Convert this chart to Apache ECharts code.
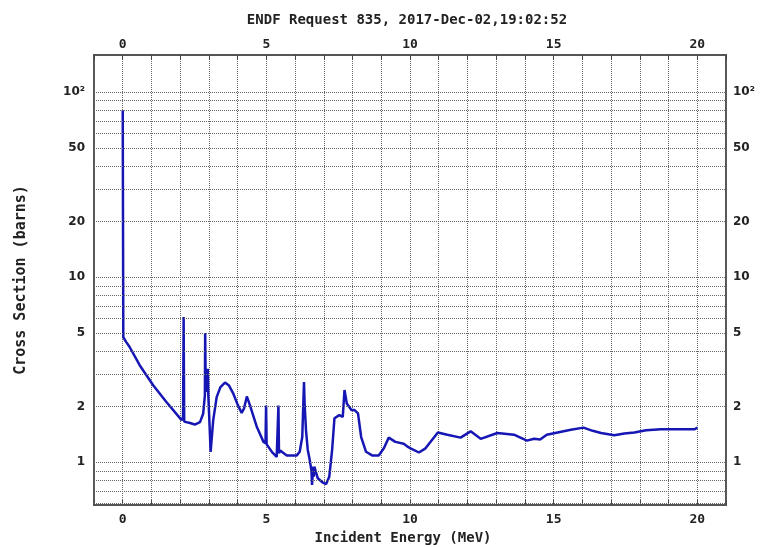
<!DOCTYPE html>
<html>
<head>
<meta charset="utf-8">
<script src="https://cdn.jsdelivr.net/npm/echarts@6/dist/echarts.min.js"></script>
<style>
  html, body { margin: 0; padding: 0; background: #fff; }
  #chart { width: 760px; height: 547px; }
</style>
</head>
<body>
<div id="chart"></div>
<script>
// Incident neutron energy (MeV)
const energy = [
  0.00, 0.02, 0.07, 0.10, 0.13, 0.24, 0.59, 1.06, 1.52, 2.05,
  2.10, 2.12, 2.14, 2.34, 2.51, 2.69, 2.80, 2.86, 2.87, 2.89,
  2.92, 2.94, 2.96, 2.98, 3.06, 3.15, 3.27, 3.40, 3.56, 3.70,
  3.85, 4.00, 4.14, 4.22, 4.32, 4.43, 4.67, 4.90, 4.97, 4.99,
  5.01, 5.19, 5.36, 5.40, 5.42, 5.44, 5.48, 5.71, 6.06, 6.16,
  6.25, 6.31, 6.33, 6.38, 6.44, 6.50, 6.57, 6.59, 6.63, 6.65,
  6.67, 6.79, 6.97, 7.08, 7.19, 7.29, 7.37, 7.54, 7.66, 7.72,
  7.80, 7.96, 8.06, 8.19, 8.30, 8.47, 8.68, 8.91, 9.09, 9.26,
  9.49, 9.78, 9.90, 10.02, 10.31, 10.54, 10.97, 11.30, 11.76, 12.11,
  12.46, 13.04, 13.62, 14.07, 14.32, 14.53, 14.76, 15.14, 15.60, 16.04,
  16.36, 16.65, 17.11, 17.46, 17.81, 18.22, 18.74, 19.33, 19.91, 20.00
];

// Cross section (barns)
const sigma = [
  80.0, 4.75, 4.60, 4.65, 4.45, 4.20, 3.35, 2.61, 2.12, 1.69,
  1.75, 6.10, 1.66, 1.63, 1.60, 1.65, 1.83, 2.30, 5.00, 2.40,
  3.10, 2.40, 3.20, 2.30, 1.14, 1.69, 2.25, 2.55, 2.70, 2.60,
  2.35, 2.05, 1.85, 1.95, 2.27, 2.03, 1.55, 1.29, 1.27, 2.03,
  1.25, 1.14, 1.07, 1.08, 2.03, 1.12, 1.16, 1.09, 1.09, 1.14,
  1.37, 2.72, 2.09, 1.49, 1.17, 1.05, 0.90, 0.754, 0.95, 0.836,
  0.947, 0.82, 0.776, 0.763, 0.836, 1.17, 1.73, 1.80, 1.76, 2.46,
  2.08, 1.92, 1.92, 1.84, 1.37, 1.14, 1.09, 1.09, 1.19, 1.36,
  1.29, 1.26, 1.22, 1.19, 1.13, 1.19, 1.45, 1.41, 1.36, 1.47,
  1.34, 1.44, 1.41, 1.31, 1.34, 1.33, 1.41, 1.45, 1.50, 1.54,
  1.48, 1.44, 1.40, 1.43, 1.45, 1.49, 1.51, 1.51, 1.51, 1.54
];

// Energy axis labels
const xTickLabels = [0, 5, 10, 15, 20];

// Logarithmic grid lines and labelled cross-section values
const yGridValues = [0.6, 0.7, 0.8, 0.9, 1, 2, 3, 4, 5, 6, 7, 8, 9,
                     10, 20, 30, 40, 50, 60, 70, 80, 90, 100];
const yTickValues = [1, 2, 5, 10, 20, 50, 100];
const yTickText = ['1', '2', '5', '10', '20', '50', '10²'];

const INK = '#222';
const GRID = '#666';
const monoFont = 'DejaVu Sans Mono';
const sansFont = 'DejaVu Sans';

const chart = echarts.init(document.getElementById('chart'));

const tickLabelStyle = {
  show: true,
  color: INK,
  fontFamily: sansFont,
  fontWeight: 'bold',
  fontSize: 12
};

const gridLines = yGridValues.map(v => ({ yAxis: v, label: { show: false } }));
const leftLabels = yTickValues.map((v, i) => ({
  yAxis: v,
  label: Object.assign({}, tickLabelStyle, { position: 'start', distance: 9, formatter: yTickText[i] })
}));
const rightLabels = yTickValues.map((v, i) => ({
  yAxis: v,
  label: Object.assign({}, tickLabelStyle, { position: 'end', distance: 7, formatter: yTickText[i] })
}));

function energyAxis(position) {
  const bottom = position === 'bottom';
  return {
    type: 'value',
    position: position,
    min: -1,
    max: 21,
    interval: 1,
    axisLine: { show: false },
    axisTick: { show: true, inside: true, length: 5, lineStyle: { color: '#444', width: 1 } },
    axisLabel: {
      margin: bottom ? 8 : 4,
      color: INK,
      fontFamily: monoFont,
      fontWeight: 'bold',
      fontSize: 13,
      formatter: v => (xTickLabels.indexOf(v) >= 0 ? String(v) : '')
    },
    splitLine: bottom
      ? { show: true, lineStyle: { type: 'dotted', color: GRID, width: 1 } }
      : { show: false },
    name: bottom ? 'Incident Energy (MeV)' : '',
    nameLocation: 'middle',
    nameGap: 26,
    nameTextStyle: {
      color: INK,
      fontFamily: monoFont,
      fontWeight: 'bold',
      fontSize: 14,
      padding: [0, 14, 0, 0]
    }
  };
}

chart.setOption({
  animation: false,
  backgroundColor: '#ffffff',
  title: {
    text: 'ENDF Request 835, 2017-Dec-02,19:02:52',
    left: 402,
    top: 8,
    textAlign: 'center',
    textStyle: {
      color: INK,
      fontFamily: monoFont,
      fontWeight: 'bold',
      fontSize: 14
    }
  },
  grid: {
    left: 94,
    right: 34,
    top: 55,
    bottom: 42,
    outerBoundsMode: 'none',
    show: true,
    borderColor: '#555',
    borderWidth: 2,
    backgroundColor: 'transparent'
  },
  xAxis: [energyAxis('bottom'), energyAxis('top')],
  yAxis: {
    type: 'log',
    min: 0.588,
    max: 159,
    axisLine: { show: false },
    axisTick: { show: false },
    axisLabel: { show: false },
    splitLine: { show: false },
    name: 'Cross Section (barns)',
    nameLocation: 'middle',
    nameRotate: 90,
    nameGap: 65,
    nameTextStyle: {
      color: INK,
      fontFamily: monoFont,
      fontWeight: 'bold',
      fontSize: 15
    }
  },
  series: [
    {
      name: 'grid',
      type: 'line',
      data: [],
      z: 1,
      silent: true,
      markLine: {
        silent: true,
        symbol: 'none',
        animation: false,
        lineStyle: { type: 'dotted', color: GRID, width: 1 },
        data: gridLines.concat(leftLabels, rightLabels)
      }
    },
    {
      name: 'Cross section',
      type: 'line',
      z: 3,
      showSymbol: false,
      symbol: 'none',
      lineStyle: { color: '#1616b4', width: 2.5 },
      data: energy.map((e, i) => [e, sigma[i]])
    }
  ]
});
</script>
</body>
</html>
